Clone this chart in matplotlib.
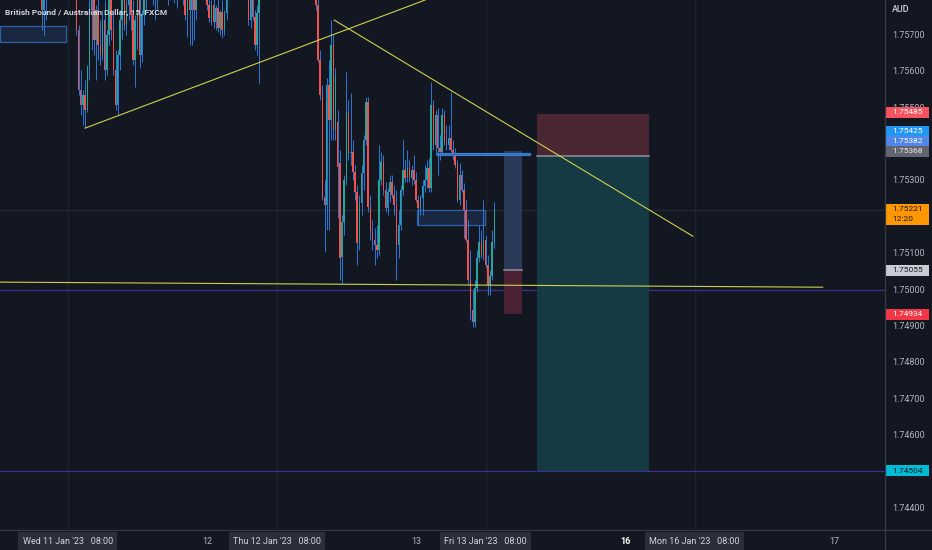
import numpy as np
import matplotlib
matplotlib.use("Agg")
import matplotlib.pyplot as plt
from matplotlib.patches import Rectangle

# figure geometry (pixels at dpi 100)
FIG_W, FIG_H = 932, 550
PLOT_W = 885          # candle pane width, price scale to the right
TIME_H = 20           # time scale strip at the bottom

BG = "#131722"
TEXT = "#d1d4dc"
MUTED = "#b2b5be"
BORDER = "#363a45"
GRID = "#1e222d"
UP = "#26a69a"
DOWN = "#ef5350"
WICK = "#2f78d2"
YELLOW = "#cfcf4c"
PURPLE = "#3d3190"

plt.rcParams.update({
    "figure.facecolor": BG,
    "axes.facecolor": BG,
    "savefig.facecolor": BG,
    "font.family": ["Roboto", "DejaVu Sans"],
    "text.color": TEXT,
})

# ---- GBP/AUD 15 minute bars (FXCM) -------------------------------------
# time axis in hours on the trading clock, 0 = Wed 11 Jan '23 00:00
BAR_START = 5.0
BAR_STEP = 0.25

OPENS = [
    1.75852, 1.75770, 1.75825, 1.75866, 1.75907, 1.75935, 1.75948, 1.75990, 1.75976, 1.76003,
    1.76017, 1.76003, 1.75976, 1.75948, 1.75921, 1.75893, 1.75825, 1.75715, 1.75550, 1.75508,
    1.75536, 1.75495, 1.75613, 1.75770, 1.75797, 1.75687, 1.75770, 1.75673, 1.75646, 1.75742,
    1.75605, 1.75701, 1.75797, 1.75715, 1.75605, 1.75508, 1.75646, 1.75742, 1.75811, 1.75728,
    1.75783, 1.75811, 1.75756, 1.75632, 1.75742, 1.75797, 1.75646, 1.75756, 1.75825, 1.75852,
    1.75880, 1.75866, 1.75838, 1.75811, 1.75852, 1.75893, 1.75907, 1.75880, 1.75852, 1.75838,
    1.75866, 1.75880, 1.75825, 1.75852, 1.75880, 1.75838, 1.75811, 1.75756, 1.75797, 1.75770,
    1.75825, 1.75770, 1.75838, 1.75866, 1.75893, 1.75852, 1.75825, 1.75783, 1.75748, 1.75783,
    1.75737, 1.75775, 1.75720, 1.75764, 1.75715, 1.75761, 1.75811, 1.75852, 1.75893, 1.75921,
    1.75907, 1.75880, 1.75893, 1.75866, 1.75838, 1.75811, 1.75742, 1.75797, 1.75750, 1.75673,
    1.75761, 1.75825, 1.75866, 1.75907, 1.75948, 1.75976, 1.76017, 1.76003, 1.76031, 1.76045,
    1.76031, 1.76003, 1.76017, 1.75990, 1.75962, 1.75990, 1.75976, 1.75948, 1.75935, 1.75921,
    1.75907, 1.75893, 1.75880, 1.75866, 1.75852, 1.75838, 1.75825, 1.75783, 1.75632, 1.75536,
    1.75255, 1.75233, 1.75563, 1.75467, 1.75673, 1.75440, 1.75462, 1.75349, 1.75090, 1.75187,
    1.75302, 1.75486, 1.75376, 1.75379, 1.75324, 1.75269, 1.75129, 1.75239, 1.75321, 1.75412,
    1.75517, 1.75228, 1.75156, 1.75137, 1.75123, 1.75110, 1.75302, 1.75352, 1.75275, 1.75225,
    1.75269, 1.75297, 1.75261, 1.75233, 1.75123, 1.75178, 1.75275, 1.75330, 1.75308, 1.75335,
    1.75308, 1.75330, 1.75302, 1.75247, 1.75225, 1.75253, 1.75286, 1.75302, 1.75335, 1.75280,
    1.75508, 1.75398, 1.75481, 1.75390, 1.75379, 1.75481, 1.75407, 1.75398, 1.75418, 1.75385,
    1.75371, 1.75343, 1.75247, 1.75316, 1.75275, 1.75220, 1.75137, 1.75027, 1.74945, 1.74912,
    1.75005, 1.75088, 1.75132, 1.75096, 1.75137, 1.75068, 1.75013, 1.75038, 1.75132,
]
HIGHS = [
    1.75907, 1.75838, 1.75880, 1.75935, 1.75962, 1.75976, 1.76003, 1.76031, 1.76017, 1.76045,
    1.76058, 1.76045, 1.76017, 1.75990, 1.75962, 1.75935, 1.75838, 1.75728, 1.75605, 1.75550,
    1.75577, 1.75618, 1.75797, 1.75825, 1.75825, 1.75783, 1.75811, 1.75742, 1.75770, 1.75797,
    1.75715, 1.75811, 1.75825, 1.75770, 1.75660, 1.75660, 1.75770, 1.75825, 1.75838, 1.75797,
    1.75825, 1.75852, 1.75797, 1.75756, 1.75811, 1.75825, 1.75770, 1.75838, 1.75866, 1.75893,
    1.75921, 1.75907, 1.75880, 1.75866, 1.75907, 1.75935, 1.75948, 1.75921, 1.75893, 1.75880,
    1.75907, 1.75921, 1.75866, 1.75893, 1.75907, 1.75880, 1.75852, 1.75825, 1.75811, 1.75838,
    1.75852, 1.75852, 1.75880, 1.75921, 1.75935, 1.75893, 1.75866, 1.75838, 1.75797, 1.75811,
    1.75783, 1.75811, 1.75770, 1.75797, 1.75770, 1.75825, 1.75866, 1.75907, 1.75948, 1.75962,
    1.75948, 1.75921, 1.75935, 1.75907, 1.75880, 1.75838, 1.75811, 1.75825, 1.75770, 1.75783,
    1.75852, 1.75880, 1.75921, 1.75962, 1.76003, 1.76031, 1.76058, 1.76045, 1.76072, 1.76086,
    1.76072, 1.76045, 1.76058, 1.76031, 1.76017, 1.76031, 1.76017, 1.75990, 1.75976, 1.75962,
    1.75948, 1.75935, 1.75921, 1.75907, 1.75893, 1.75880, 1.75866, 1.75825, 1.75660, 1.75563,
    1.75302, 1.75583, 1.75632, 1.75742, 1.75701, 1.75610, 1.75495, 1.75385, 1.75206, 1.75316,
    1.75599, 1.75522, 1.75541, 1.75412, 1.75343, 1.75288, 1.75261, 1.75343, 1.75426, 1.75530,
    1.75530, 1.75261, 1.75192, 1.75170, 1.75178, 1.75398, 1.75379, 1.75371, 1.75297, 1.75280,
    1.75316, 1.75316, 1.75288, 1.75275, 1.75220, 1.75288, 1.75412, 1.75357, 1.75385, 1.75357,
    1.75343, 1.75371, 1.75324, 1.75261, 1.75261, 1.75302, 1.75343, 1.75357, 1.75363, 1.75572,
    1.75522, 1.75495, 1.75500, 1.75426, 1.75500, 1.75495, 1.75453, 1.75453, 1.75544, 1.75412,
    1.75390, 1.75357, 1.75349, 1.75330, 1.75294, 1.75247, 1.75192, 1.75110, 1.75000, 1.75027,
    1.75110, 1.75178, 1.75165, 1.75247, 1.75151, 1.75096, 1.75055, 1.75165, 1.75242,
]
LOWS = [
    1.75715, 1.75701, 1.75742, 1.75825, 1.75880, 1.75907, 1.75921, 1.75962, 1.75935, 1.75976,
    1.75990, 1.75962, 1.75935, 1.75907, 1.75880, 1.75811, 1.75701, 1.75536, 1.75481, 1.75453,
    1.75445, 1.75489, 1.75577, 1.75660, 1.75646, 1.75577, 1.75632, 1.75618, 1.75632, 1.75577,
    1.75591, 1.75673, 1.75687, 1.75591, 1.75495, 1.75481, 1.75605, 1.75687, 1.75715, 1.75701,
    1.75742, 1.75715, 1.75618, 1.75558, 1.75660, 1.75610, 1.75627, 1.75728, 1.75770, 1.75811,
    1.75838, 1.75783, 1.75742, 1.75770, 1.75811, 1.75852, 1.75866, 1.75825, 1.75783, 1.75797,
    1.75825, 1.75789, 1.75775, 1.75811, 1.75825, 1.75783, 1.75742, 1.75695, 1.75673, 1.75673,
    1.75687, 1.75742, 1.75811, 1.75825, 1.75838, 1.75797, 1.75770, 1.75737, 1.75728, 1.75720,
    1.75715, 1.75709, 1.75701, 1.75693, 1.75701, 1.75742, 1.75797, 1.75825, 1.75866, 1.75880,
    1.75866, 1.75838, 1.75852, 1.75825, 1.75803, 1.75728, 1.75720, 1.75742, 1.75660, 1.75646,
    1.75569, 1.75811, 1.75838, 1.75880, 1.75921, 1.75948, 1.75990, 1.75962, 1.76003, 1.76017,
    1.75990, 1.75962, 1.75976, 1.75948, 1.75935, 1.75948, 1.75935, 1.75907, 1.75893, 1.75880,
    1.75866, 1.75852, 1.75838, 1.75825, 1.75811, 1.75803, 1.75770, 1.75627, 1.75522, 1.75247,
    1.75104, 1.75165, 1.75165, 1.75412, 1.75412, 1.75412, 1.75198, 1.75027, 1.75019, 1.75151,
    1.75288, 1.75357, 1.75343, 1.75302, 1.75247, 1.75068, 1.75110, 1.75206, 1.75275, 1.75398,
    1.75214, 1.75137, 1.75110, 1.75068, 1.75088, 1.75096, 1.75288, 1.75261, 1.75214, 1.75206,
    1.75242, 1.75253, 1.75206, 1.75027, 1.75088, 1.75165, 1.75261, 1.75297, 1.75297, 1.75297,
    1.75288, 1.75291, 1.75242, 1.75178, 1.75206, 1.75206, 1.75269, 1.75280, 1.75269, 1.75269,
    1.75385, 1.75371, 1.75316, 1.75357, 1.75371, 1.75398, 1.75385, 1.75385, 1.75379, 1.75357,
    1.75335, 1.75242, 1.75233, 1.75269, 1.75143, 1.75132, 1.75013, 1.74917, 1.74898, 1.74898,
    1.74994, 1.75077, 1.75088, 1.75082, 1.75060, 1.74986, 1.74986, 1.75027, 1.75115,
]
CLOSES = [
    1.75770, 1.75825, 1.75866, 1.75907, 1.75935, 1.75948, 1.75990, 1.75976, 1.76003, 1.76017,
    1.76003, 1.75976, 1.75948, 1.75921, 1.75893, 1.75825, 1.75715, 1.75550, 1.75508, 1.75536,
    1.75495, 1.75613, 1.75770, 1.75797, 1.75687, 1.75770, 1.75673, 1.75646, 1.75742, 1.75605,
    1.75701, 1.75797, 1.75715, 1.75605, 1.75508, 1.75646, 1.75742, 1.75811, 1.75728, 1.75783,
    1.75811, 1.75756, 1.75632, 1.75742, 1.75797, 1.75646, 1.75756, 1.75825, 1.75852, 1.75880,
    1.75866, 1.75838, 1.75811, 1.75852, 1.75893, 1.75907, 1.75880, 1.75852, 1.75838, 1.75866,
    1.75880, 1.75825, 1.75852, 1.75880, 1.75838, 1.75811, 1.75756, 1.75797, 1.75770, 1.75825,
    1.75770, 1.75838, 1.75866, 1.75893, 1.75852, 1.75825, 1.75783, 1.75748, 1.75783, 1.75737,
    1.75775, 1.75720, 1.75764, 1.75715, 1.75761, 1.75811, 1.75852, 1.75893, 1.75921, 1.75907,
    1.75880, 1.75893, 1.75866, 1.75838, 1.75811, 1.75742, 1.75797, 1.75750, 1.75673, 1.75761,
    1.75825, 1.75866, 1.75907, 1.75948, 1.75976, 1.76017, 1.76003, 1.76031, 1.76045, 1.76031,
    1.76003, 1.76017, 1.75990, 1.75962, 1.75990, 1.75976, 1.75948, 1.75935, 1.75921, 1.75907,
    1.75893, 1.75880, 1.75866, 1.75852, 1.75838, 1.75825, 1.75783, 1.75632, 1.75536, 1.75255,
    1.75233, 1.75563, 1.75467, 1.75673, 1.75440, 1.75591, 1.75338, 1.75088, 1.75187, 1.75302,
    1.75489, 1.75376, 1.75379, 1.75324, 1.75269, 1.75129, 1.75239, 1.75321, 1.75412, 1.75517,
    1.75228, 1.75156, 1.75137, 1.75123, 1.75110, 1.75302, 1.75352, 1.75275, 1.75225, 1.75269,
    1.75297, 1.75261, 1.75233, 1.75123, 1.75178, 1.75275, 1.75330, 1.75308, 1.75335, 1.75308,
    1.75330, 1.75302, 1.75247, 1.75225, 1.75253, 1.75286, 1.75302, 1.75335, 1.75280, 1.75508,
    1.75398, 1.75481, 1.75390, 1.75379, 1.75481, 1.75407, 1.75398, 1.75418, 1.75385, 1.75371,
    1.75343, 1.75247, 1.75316, 1.75275, 1.75220, 1.75137, 1.75027, 1.74945, 1.74912, 1.75005,
    1.75088, 1.75132, 1.75096, 1.75137, 1.75068, 1.75013, 1.75038, 1.75132, 1.75221,
]

# ---- drawings (time in hours, price) -----------------------------------
UP_TREND_T = [10.0, 49.6]
UP_TREND_P = [1.75445, 1.75802]
DOWN_TREND_T = [38.6, 79.8]
DOWN_TREND_P = [1.75742, 1.75148]
SUPPORT_T = [0.23, 94.7]
SUPPORT_P = [1.75022, 1.75008]

H_LEVELS = [1.75000, 1.74504]          # purple horizontal lines
LAST_PRICE = 1.75221
COUNTDOWN = "12:20"

# blue rectangles: t0, t1, low, high
ZONES = [
    (0.23, 7.8, 1.75682, 1.75726),
    (48.1, 55.9, 1.75178, 1.75220),
]
BLUE_BAR = (50.4, 61.1, 1.75370, 1.75377)

# risk/reward tools: t0, t1, entry, stop, target
LONG_POS = (58.1, 60.2, 1.75055, 1.74934, 1.75382)
SHORT_POS = (61.9, 74.8, 1.75368, 1.75485, 1.74504)

# price scale tags: text, price, background, text colour, nudge (px up)
PRICE_TAGS = [
    ("1.75485", 1.75485, "#f7525f", "#ffffff", 1.5),
    ("1.75425", 1.75425, "#2196f3", "#ffffff", 4),
    ("1.75382", 1.75382, "#4f86e8", "#ffffff", 10),
    ("1.75368", 1.75368, "#62656f", "#e8e9ec", 5),
    ("1.75055", 1.75055, "#c9ccd4", "#131722", 0),
    ("1.74934", 1.74934, "#f23645", "#ffffff", 0),
    ("1.74504", 1.74504, "#00bcd4", "#131722", 0),
]
# scale marks not hidden behind a tag
PRICE_TICKS = [1.74400, 1.74600, 1.74700, 1.74800, 1.74900, 1.75000,
               1.75100, 1.75300, 1.75500, 1.75600, 1.75700]

TIME_TICKS = [8, 32, 56, 80]
TIME_LABELS = ["Wed 11 Jan '23   08:00", "Thu 12 Jan '23   08:00",
               "Fri 13 Jan '23   08:00", "Mon 16 Jan '23   08:00"]
DAY_TICKS = [24, 48, 72, 96]
DAY_LABELS = ["12", "13", "16", "17"]

X_RANGE = (0.23, 101.86)
Y_RANGE = (1.74341, 1.75797)
TITLE = "British Pound / Australian Dollar, 15, FXCM"
TAG_SIZE = 6.0


def draw_candles(ax):
    o = np.array(OPENS)
    c = np.array(CLOSES)
    hi = np.maximum(np.array(HIGHS), np.maximum(o, c))
    lo = np.minimum(np.array(LOWS), np.minimum(o, c))
    t = BAR_START + BAR_STEP * np.arange(len(o))
    ax.vlines(t, lo, hi, color=WICK, linewidth=0.7, zorder=3)
    up = c >= o
    px = (Y_RANGE[1] - Y_RANGE[0]) / (FIG_H - TIME_H)
    body = np.maximum(np.abs(c - o), px * 0.9)
    ax.bar(t, body, bottom=np.minimum(o, c), width=0.17,
           color=np.where(up, UP, DOWN), linewidth=0, zorder=4)


def draw_position(ax, pos, profit_color, loss_color):
    t0, t1, entry, stop, target = pos
    ax.add_patch(Rectangle((t0, min(entry, target)), t1 - t0, abs(target - entry),
                           fc=profit_color, ec="none", zorder=2))
    ax.add_patch(Rectangle((t0, min(entry, stop)), t1 - t0, abs(stop - entry),
                           fc=loss_color, ec="none", zorder=2))
    ax.plot([t0, t1], [entry, entry], color="#8d909a", linewidth=1.1, zorder=2.5)


def main():
    fig = plt.figure(figsize=(FIG_W / 100, FIG_H / 100), dpi=100)
    ax = fig.add_axes([0, TIME_H / FIG_H, PLOT_W / FIG_W, 1 - TIME_H / FIG_H])
    ax.set_xlim(*X_RANGE)
    ax.set_ylim(*Y_RANGE)
    ax.set_axis_off()

    for t in TIME_TICKS:
        ax.axvline(t, color=GRID, linewidth=1.0, zorder=0)
    ax.axhline(LAST_PRICE, color="#262a35", linewidth=0.8, zorder=1)
    for p in H_LEVELS:
        ax.axhline(p, color=PURPLE, linewidth=0.9, zorder=1)

    draw_position(ax, LONG_POS, "#2c3a5a", "#4b2234")
    draw_position(ax, SHORT_POS, "#163a43", "#4a2632")

    for t0, t1, lo, hi in ZONES:
        ax.add_patch(Rectangle((t0, lo), t1 - t0, hi - lo, fc="#1a2740",
                               ec="#2a62a6", linewidth=0.9, zorder=2))
    t0, t1, lo, hi = BLUE_BAR
    ax.add_patch(Rectangle((t0, lo), t1 - t0, hi - lo, fc="#2f6fbf",
                           ec="#3a80d2", linewidth=0.8, zorder=5))

    draw_candles(ax)

    ax.plot(UP_TREND_T, UP_TREND_P, color=YELLOW, linewidth=0.8, zorder=6)
    ax.plot(DOWN_TREND_T, DOWN_TREND_P, color=YELLOW, linewidth=0.8, zorder=6)
    ax.plot(SUPPORT_T, SUPPORT_P, color=YELLOW, linewidth=0.8, zorder=6)

    ax.text(5 / PLOT_W, 1 - 12 / (FIG_H - TIME_H), TITLE, transform=ax.transAxes,
            fontsize=6.0, fontweight="bold", color=TEXT, va="center", ha="left", zorder=10,
            family=["Liberation Sans Narrow", "Roboto", "DejaVu Sans"])

    # ---- price scale ----
    axp = fig.add_axes([PLOT_W / FIG_W, TIME_H / FIG_H, 1 - PLOT_W / FIG_W, 1 - TIME_H / FIG_H])
    axp.set_xlim(0, 1)
    axp.set_ylim(*Y_RANGE)
    axp.set_axis_off()
    px = (Y_RANGE[1] - Y_RANGE[0]) / (FIG_H - TIME_H)
    for p in PRICE_TICKS:
        axp.text(0.15, p, f"{p:.5f}", fontsize=6.5, color=MUTED, va="center", ha="left", zorder=1)
    axp.text(0.15, Y_RANGE[1] - 9 * px, "AUD", fontsize=6.5, fontweight="medium",
             color=TEXT, va="center", zorder=1)
    for label, price, bg, fg, nudge in PRICE_TAGS:
        yc = price + nudge * px
        axp.add_patch(Rectangle((0, yc - 5.5 * px), 0.94, 11 * px, fc=bg, ec="none", zorder=3))
        axp.text(0.15, yc, label, fontsize=TAG_SIZE, color=fg, va="center", ha="left", zorder=4)
    # last price with bar countdown
    axp.add_patch(Rectangle((0, LAST_PRICE - 15 * px), 0.94, 21 * px, fc="#ff9800", ec="none", zorder=3))
    axp.text(0.15, LAST_PRICE + 0.5 * px, f"{LAST_PRICE:.5f}", fontsize=TAG_SIZE, color="#131722",
             va="center", ha="left", zorder=4)
    axp.text(0.15, LAST_PRICE - 9.5 * px, COUNTDOWN, fontsize=TAG_SIZE, color="#131722",
             va="center", ha="left", zorder=4)

    # ---- time scale ----
    axt = fig.add_axes([0, 0, PLOT_W / FIG_W, TIME_H / FIG_H])
    axt.set_xlim(*X_RANGE)
    axt.set_ylim(0, 1)
    axt.set_axis_off()
    for t, label in zip(DAY_TICKS, DAY_LABELS):
        bold = label == "16"
        axt.text(t, 0.45, label, fontsize=6.5, ha="center", va="center",
                 color="#ffffff" if bold else MUTED, fontweight="bold" if bold else "normal")
    for t, label in zip(TIME_TICKS, TIME_LABELS):
        axt.text(t, 0.45, label, fontsize=6.5, ha="center", va="center", color=TEXT,
                 bbox=dict(boxstyle="square,pad=0.45", fc="#2a2e39", ec="none"))

    # pane separators
    fig.add_artist(plt.Line2D([PLOT_W / FIG_W] * 2, [0, 1], color=BORDER, linewidth=0.9))
    fig.add_artist(plt.Line2D([0, 1], [TIME_H / FIG_H] * 2, color=BORDER, linewidth=0.9))

    fig.savefig("out.png", dpi=100)
    plt.close(fig)


if __name__ == "__main__":
    main()
